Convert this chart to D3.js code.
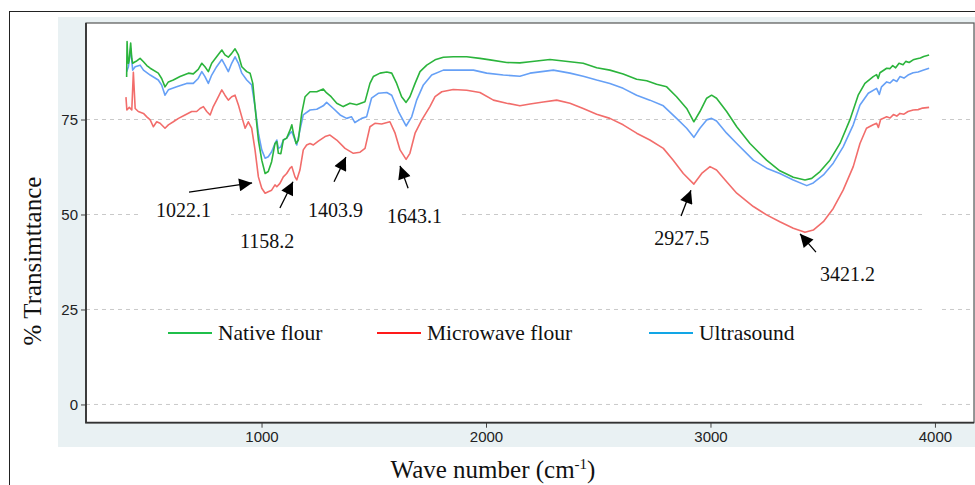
<!DOCTYPE html>
<html>
<head>
<meta charset="utf-8">
<script src="https://cdn.jsdelivr.net/npm/d3@7"></script>
<style>
  body { margin: 0; background: #fff; }
  svg { display: block; }
</style>
</head>
<body>
<div id="graph"></div>
<script>
// spectra: [wave number, % transmittance]
var nativeFlour = [
  [399, 86.2], [401, 95.5], [404, 91.0], [407, 89.8], [410, 90.5], [417, 95.1], [422, 91.0],
  [426, 89.8], [437, 90.2], [444, 90.4], [459, 91.1], [474, 90.2], [489, 89.2], [504, 88.5],
  [540, 87.2], [555, 85.8], [570, 83.6], [585, 84.9], [607, 85.4], [637, 86.3], [674, 87.2],
  [696, 87.0], [718, 88.2], [734, 89.8], [748, 88.9], [763, 87.6], [778, 89.8], [800, 91.5],
  [823, 93.3], [837, 92.0], [852, 91.4], [867, 92.4], [882, 93.6], [897, 92.0], [912, 88.9],
  [934, 87.6], [949, 87.2], [961, 84.5], [971, 78.4], [986, 69.6], [1001, 64.3], [1016, 60.8],
  [1030, 61.3], [1045, 63.9], [1060, 68.7], [1068, 69.2], [1075, 66.1], [1086, 66.0],
  [1097, 69.6], [1112, 70.1], [1127, 72.2], [1135, 73.6], [1142, 71.4], [1154, 68.7],
  [1164, 69.6], [1179, 76.6], [1194, 81.0], [1216, 82.3], [1246, 82.3], [1275, 83.0],
  [1290, 82.0], [1310, 81.0], [1335, 79.3], [1364, 78.4], [1394, 79.3], [1424, 78.9],
  [1461, 79.7], [1483, 84.5], [1498, 86.3], [1528, 87.2], [1558, 87.5], [1580, 87.2],
  [1602, 84.5], [1624, 81.0], [1644, 79.5], [1661, 81.0], [1684, 84.5], [1706, 87.6],
  [1736, 89.3], [1773, 90.7], [1810, 91.4], [1854, 91.5], [1914, 91.5], [1973, 91.1],
  [2018, 90.7], [2092, 90.0], [2151, 89.9], [2196, 90.2], [2285, 90.8], [2374, 90.2],
  [2433, 89.8], [2493, 88.6], [2552, 88.0], [2611, 87.0], [2671, 85.6], [2716, 85.2],
  [2760, 84.3], [2805, 83.6], [2849, 81.0], [2894, 77.9], [2926, 74.4], [2953, 77.1],
  [2983, 80.6], [3005, 81.4], [3027, 80.6], [3072, 77.1], [3117, 73.1], [3176, 68.7],
  [3250, 64.3], [3309, 61.5], [3369, 59.8], [3421, 59.1], [3451, 59.5], [3488, 61.3],
  [3532, 64.3], [3577, 68.7], [3621, 74.9], [3658, 81.4], [3688, 84.5], [3725, 86.3],
  [3740, 86.8], [3747, 85.8], [3755, 87.3], [3785, 88.5], [3800, 88.4], [3812, 89.2],
  [3825, 88.6], [3840, 89.8], [3858, 89.4], [3870, 90.3], [3885, 90.0], [3903, 90.7],
  [3920, 91.0], [3935, 91.2], [3950, 91.6], [3974, 92.0]
];
var microwaveFlour = [
  [396, 80.9], [400, 77.5], [411, 78.2], [422, 77.5], [429, 87.4], [437, 77.9], [451, 77.1],
  [474, 76.6], [489, 75.7], [504, 74.9], [518, 73.1], [533, 74.4], [548, 74.0], [570, 72.7],
  [585, 73.6], [607, 74.4], [630, 75.3], [659, 76.2], [689, 77.1], [711, 77.1], [726, 77.9],
  [741, 78.4], [756, 77.1], [771, 76.2], [785, 78.4], [800, 80.1], [823, 82.8], [837, 81.4],
  [852, 80.1], [867, 81.0], [882, 81.4], [897, 78.8], [912, 75.7], [927, 72.7], [941, 74.4],
  [956, 72.7], [971, 67.0], [986, 59.9], [1001, 56.9], [1016, 55.6], [1030, 56.0],
  [1045, 56.4], [1060, 57.8], [1068, 57.3], [1082, 58.2], [1097, 59.9], [1112, 60.8],
  [1127, 62.2], [1135, 62.6], [1149, 59.9], [1157, 59.1], [1171, 61.7], [1186, 67.0],
  [1201, 68.3], [1216, 68.7], [1231, 68.3], [1253, 69.3], [1283, 70.5], [1305, 70.9],
  [1335, 69.6], [1372, 67.4], [1409, 66.1], [1439, 66.4], [1461, 67.4], [1483, 73.1],
  [1505, 74.0], [1535, 73.8], [1572, 74.4], [1595, 71.4], [1617, 67.0], [1644, 64.5],
  [1661, 66.1], [1684, 71.4], [1714, 74.9], [1750, 78.4], [1773, 81.0], [1803, 82.3],
  [1854, 82.9], [1914, 82.7], [1973, 82.1], [2033, 80.1], [2092, 79.3], [2151, 78.6],
  [2196, 79.1], [2255, 79.6], [2315, 80.1], [2374, 79.3], [2433, 77.9], [2493, 76.4],
  [2552, 75.3], [2611, 73.6], [2671, 71.4], [2730, 69.6], [2790, 67.4], [2834, 64.3],
  [2879, 60.8], [2926, 58.0], [2961, 60.8], [2998, 62.6], [3027, 61.7], [3072, 58.6],
  [3117, 55.6], [3191, 52.1], [3250, 49.9], [3309, 48.1], [3369, 46.4], [3421, 45.3],
  [3458, 45.9], [3503, 48.1], [3547, 51.6], [3591, 56.4], [3636, 62.6], [3666, 68.7],
  [3695, 72.7], [3725, 73.6], [3740, 74.0], [3748, 72.9], [3758, 75.0], [3785, 75.7],
  [3800, 75.4], [3815, 76.3], [3830, 75.9], [3844, 76.6], [3862, 76.4], [3880, 77.1],
  [3903, 77.5], [3925, 77.6], [3945, 78.0], [3974, 78.2]
];
var ultrasound = [
  [399, 87.6], [407, 88.9], [417, 93.7], [426, 88.0], [437, 88.9], [459, 89.3], [474, 88.0],
  [504, 86.7], [540, 85.4], [555, 84.1], [570, 81.4], [585, 82.8], [622, 83.6], [666, 84.5],
  [696, 84.5], [718, 85.8], [734, 87.6], [748, 86.3], [763, 84.5], [778, 86.7], [800, 88.9],
  [823, 90.8], [837, 89.3], [852, 87.6], [867, 89.8], [882, 91.5], [897, 89.8], [912, 87.2],
  [934, 85.4], [956, 84.1], [971, 78.4], [986, 71.4], [1001, 67.0], [1016, 64.8],
  [1030, 65.2], [1045, 66.5], [1060, 68.7], [1068, 69.6], [1075, 67.4], [1086, 67.8],
  [1097, 69.6], [1112, 70.1], [1127, 71.4], [1135, 71.8], [1149, 69.6], [1157, 68.3],
  [1171, 72.2], [1186, 76.2], [1216, 77.5], [1246, 77.7], [1275, 78.6], [1290, 79.5],
  [1320, 77.9], [1350, 76.2], [1379, 75.3], [1401, 75.7], [1416, 74.2], [1446, 75.3],
  [1468, 75.7], [1490, 80.6], [1520, 81.9], [1558, 82.1], [1580, 81.4], [1610, 77.1],
  [1644, 73.3], [1669, 75.7], [1691, 80.1], [1721, 84.1], [1758, 86.7], [1810, 88.0],
  [1869, 88.0], [1944, 88.0], [2003, 87.2], [2077, 86.7], [2151, 86.4], [2196, 87.2],
  [2300, 88.0], [2374, 87.2], [2433, 86.4], [2493, 85.4], [2552, 84.5], [2611, 83.2],
  [2671, 81.4], [2730, 80.1], [2790, 78.6], [2849, 75.3], [2894, 72.7], [2926, 70.3],
  [2953, 72.7], [2983, 74.9], [3005, 75.3], [3027, 74.6], [3072, 71.4], [3117, 68.7],
  [3191, 64.3], [3250, 62.2], [3309, 60.8], [3369, 59.1], [3429, 57.6], [3458, 58.3],
  [3503, 60.4], [3547, 63.5], [3591, 67.8], [3636, 73.6], [3666, 78.8], [3703, 81.9],
  [3740, 83.2], [3752, 81.6], [3762, 83.6], [3785, 84.9], [3800, 84.6], [3815, 85.5],
  [3830, 85.0], [3844, 86.3], [3862, 85.9], [3880, 86.7], [3903, 87.3], [3925, 87.5],
  [3950, 88.0], [3974, 88.5]
];

var seriesNames = ["Native flour", "Microwave flour", "Ultrasound"];
var xTicks = [1000, 2000, 3000, 4000];
var yTicks = [0, 25, 50, 75];

// peak labels: text anchor point and arrow tail -> head, in data units
var peakLabels = ["1022.1", "1158.2", "1403.9", "1643.1", "2927.5", "3421.2"];
var labelPos = [[530, 49.3], [904, 41.2], [1207, 49.3], [1559, 47.8], [2749, 41.9], [3488, 32.5]];
var arrowFrom = [[677, 55.9], [1082, 51.7], [1323, 58.6], [1653, 56.9], [2869, 49.6], [3470, 40.1]];
var arrowTo = [[958, 58.3], [1140, 58.6], [1376, 65.1], [1617, 62.8], [2913, 56.4], [3399, 44.9]];

var lineColors = ["#2bb43c", "#f26d6b", "#66a0f6"];
var legendColors = ["#1fbf4a", "#ff1a1a", "#12a6e6"];

var W = 975, H = 485;
var plot = {left: 86, top: 23, right: 974, bottom: 422.7};

var svg = d3.select("#graph").append("svg").attr("width", W).attr("height", H);

// outer frame and shaded graph region
svg.append("rect").attr("x", 9.5).attr("y", 11.5).attr("width", 990).attr("height", 500)
    .style("fill", "white").style("stroke", "#222").style("stroke-width", 1);
svg.append("rect").attr("x", 58).attr("y", 17).attr("width", 930).attr("height", 430)
    .style("fill", "#e9f1f3");
svg.append("rect").attr("x", plot.left).attr("y", plot.top)
    .attr("width", plot.right - plot.left).attr("height", plot.bottom - plot.top)
    .style("fill", "white");

var x = d3.scaleLinear().domain([218, 4174]).range([plot.left, plot.right]);
var y = d3.scaleLinear().domain([-4.8, 100.4]).range([plot.bottom, plot.top]);

// gridlines
svg.selectAll("grid")
    .data(yTicks)
    .enter()
    .append("line")
        .attr("x1", plot.left)
        .attr("x2", plot.right)
        .attr("y1", function(d){ return y(d); })
        .attr("y2", function(d){ return y(d); })
        .style("stroke", "#c9c9c9")
        .style("stroke-width", 1)
        .style("stroke-dasharray", "4,4");
// the gap the original has in every gridline near the right edge
svg.append("rect").attr("x", 925).attr("y", plot.top + 60).attr("width", 14)
    .attr("height", plot.bottom - plot.top - 62).style("fill", "white");

// white boxes behind the peak labels
svg.selectAll("labelbox")
    .data(peakLabels)
    .enter()
    .append("rect")
        .attr("x", function(d, i){ return x(labelPos[i][0]) - 18; })
        .attr("y", function(d, i){ return y(labelPos[i][1]) - 21; })
        .attr("width", 93)
        .attr("height", 28)
        .style("fill", "white");

// axes
var yAxis = d3.axisLeft(y).tickValues(yTicks).tickSize(5).tickPadding(3).tickFormat(d3.format("d"));
var xAxis = d3.axisBottom(x).tickValues(xTicks).tickSize(5).tickPadding(4).tickFormat(d3.format("d"));

var gy = svg.append("g").attr("transform", "translate(" + plot.left + ",0)").call(yAxis);
var gx = svg.append("g").attr("transform", "translate(0," + plot.bottom + ")").call(xAxis);
[gx, gy].forEach(function(g) {
    g.select(".domain").remove();
    g.selectAll("line").style("stroke", "#444");
    g.selectAll("text").style("font-family", "'Liberation Sans', Arial, sans-serif")
        .style("font-size", "15px").style("fill", "#222");
});

// frame of the plot region
svg.append("rect").attr("x", plot.left).attr("y", plot.top)
    .attr("width", plot.right - plot.left).attr("height", plot.bottom - plot.top)
    .style("fill", "none").style("stroke", "#555").style("stroke-width", 1.2);
svg.append("path")
    .attr("d", "M" + plot.left + "," + plot.top + "V" + plot.bottom + "H" + plot.right)
    .style("fill", "none").style("stroke", "#333").style("stroke-width", 1.8);

// spectra
var line = d3.line()
    .x(function(d){ return x(d[0]); })
    .y(function(d){ return y(d[1]); });

var spectra = [nativeFlour, microwaveFlour, ultrasound];
[1, 2, 0].forEach(function(k) {
    svg.append("path")
        .datum(spectra[k])
        .attr("d", line)
        .style("fill", "none")
        .style("stroke", lineColors[k])
        .style("stroke-width", 1.6)
        .style("stroke-linejoin", "round");
});

// arrows
svg.append("defs").append("marker")
    .attr("id", "head")
    .attr("viewBox", "0 0 10 10")
    .attr("refX", 10).attr("refY", 5)
    .attr("markerWidth", 15).attr("markerHeight", 13)
    .attr("markerUnits", "userSpaceOnUse")
    .attr("orient", "auto")
  .append("path")
    .attr("d", "M0,0L10,5L0,10Z")
    .style("fill", "black");

svg.selectAll("arrows")
    .data(peakLabels)
    .enter()
    .append("line")
        .attr("x1", function(d, i){ return x(arrowFrom[i][0]); })
        .attr("y1", function(d, i){ return y(arrowFrom[i][1]); })
        .attr("x2", function(d, i){ return x(arrowTo[i][0]); })
        .attr("y2", function(d, i){ return y(arrowTo[i][1]); })
        .style("stroke", "black")
        .style("stroke-width", 1.3)
        .attr("marker-end", "url(#head)");

svg.selectAll("peaks")
    .data(peakLabels)
    .enter()
    .append("text")
        .attr("x", function(d, i){ return x(labelPos[i][0]); })
        .attr("y", function(d, i){ return y(labelPos[i][1]); })
        .style("font-family", "'Liberation Serif', 'Times New Roman', serif")
        .style("font-size", "20px")
        .style("fill", "#111")
        .text(function(d){ return d; });

// legend
var legendX = [168, 377, 649];
svg.selectAll("legendlines")
    .data(seriesNames)
    .enter()
    .append("line")
        .attr("x1", function(d, i){ return legendX[i]; })
        .attr("x2", function(d, i){ return legendX[i] + 44; })
        .attr("y1", 333)
        .attr("y2", 333)
        .style("stroke", function(d, i){ return legendColors[i]; })
        .style("stroke-width", 2);

svg.selectAll("legendlabels")
    .data(seriesNames)
    .enter()
    .append("text")
        .attr("x", function(d, i){ return legendX[i] + 50; })
        .attr("y", 340)
        .style("font-family", "'Liberation Serif', 'Times New Roman', serif")
        .style("font-size", "21.5px")
        .style("fill", "#111")
        .text(function(d){ return d; });

// axis titles
svg.append("text")
    .attr("transform", "translate(41,261) rotate(-90)")
    .attr("text-anchor", "middle")
    .style("font-family", "'Liberation Serif', 'Times New Roman', serif")
    .style("font-size", "25px")
    .style("fill", "#111")
    .text("% Transimttance");

var xt = svg.append("text")
    .attr("x", 493)
    .attr("y", 478)
    .attr("text-anchor", "middle")
    .style("font-family", "'Liberation Serif', 'Times New Roman', serif")
    .style("font-size", "25px")
    .style("fill", "#111");
xt.append("tspan").text("Wave number (cm");
xt.append("tspan").attr("dy", -9).style("font-size", "15px").text("-1");
xt.append("tspan").attr("dy", 9).text(")");
</script>
</body>
</html>
